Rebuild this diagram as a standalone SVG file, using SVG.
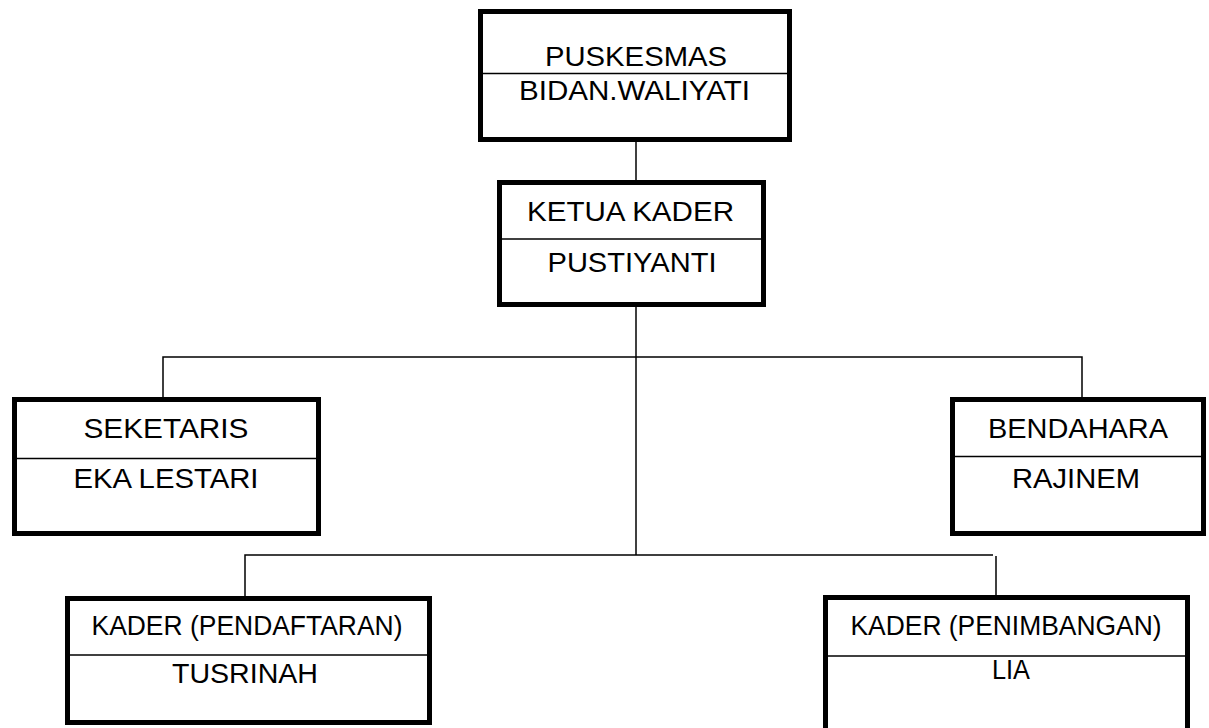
<svg xmlns="http://www.w3.org/2000/svg" width="1209" height="728" viewBox="0 0 1209 728">
<style>
.box{fill:#fff;stroke:#000;stroke-width:5}
.div{stroke:#000;stroke-width:1.5}
.con{stroke:#000;stroke-width:1.5;fill:none}
text{font-family:"Liberation Sans",Arial,sans-serif;font-size:28px;fill:#000;text-anchor:middle}
</style>
<rect width="1209" height="728" fill="#fff"/>
<g id="connectors">
<line class="con" x1="636" y1="140" x2="636" y2="182"/>
<line class="con" x1="636" y1="305" x2="636" y2="555"/>
<polyline class="con" points="163,399 163,357 1082,357 1082,399"/>
<polyline class="con" points="245,598 245,555 993,555"/>
<line class="con" x1="996" y1="556" x2="996" y2="597"/>
</g>
<g id="puskesmas">
<rect class="box" x="480.5" y="11.5" width="309" height="128"/>
<line class="div" x1="483" y1="73.5" x2="787" y2="73.5"/>
<text x="636" y="66" textLength="182" lengthAdjust="spacingAndGlyphs">PUSKESMAS</text>
<text x="634.5" y="100" textLength="231" lengthAdjust="spacingAndGlyphs">BIDAN.WALIYATI</text>
</g>
<g id="ketua">
<rect class="box" x="499.5" y="182.5" width="264" height="122"/>
<line class="div" x1="502" y1="239" x2="761" y2="239"/>
<text x="630.5" y="221" textLength="207" lengthAdjust="spacingAndGlyphs">KETUA KADER</text>
<text x="632" y="272" textLength="169" lengthAdjust="spacingAndGlyphs">PUSTIYANTI</text>
</g>
<g id="seketaris">
<rect class="box" x="14.5" y="399.5" width="304" height="134"/>
<line class="div" x1="17" y1="458.5" x2="316" y2="458.5"/>
<text x="166" y="438" textLength="165" lengthAdjust="spacingAndGlyphs">SEKETARIS</text>
<text x="166" y="488" textLength="185" lengthAdjust="spacingAndGlyphs">EKA LESTARI</text>
</g>
<g id="bendahara">
<rect class="box" x="952.5" y="399.5" width="251" height="134"/>
<line class="div" x1="955" y1="456.5" x2="1201" y2="456.5"/>
<text x="1078" y="438" textLength="180" lengthAdjust="spacingAndGlyphs">BENDAHARA</text>
<text x="1076" y="488" textLength="128" lengthAdjust="spacingAndGlyphs">RAJINEM</text>
</g>
<g id="pendaftaran">
<rect class="box" x="67.5" y="598.5" width="362" height="124"/>
<line class="div" x1="70" y1="655" x2="427" y2="655"/>
<text x="247" y="635" textLength="311" lengthAdjust="spacingAndGlyphs">KADER (PENDAFTARAN)</text>
<text x="245" y="683" textLength="146" lengthAdjust="spacingAndGlyphs">TUSRINAH</text>
</g>
<g id="penimbangan">
<rect class="box" x="825.5" y="597.5" width="362" height="140"/>
<line class="div" x1="828" y1="656" x2="1185" y2="656"/>
<text x="1006" y="635" textLength="311" lengthAdjust="spacingAndGlyphs">KADER (PENIMBANGAN)</text>
<text x="1011" y="679" textLength="38" lengthAdjust="spacingAndGlyphs">LIA</text>
</g>
</svg>
